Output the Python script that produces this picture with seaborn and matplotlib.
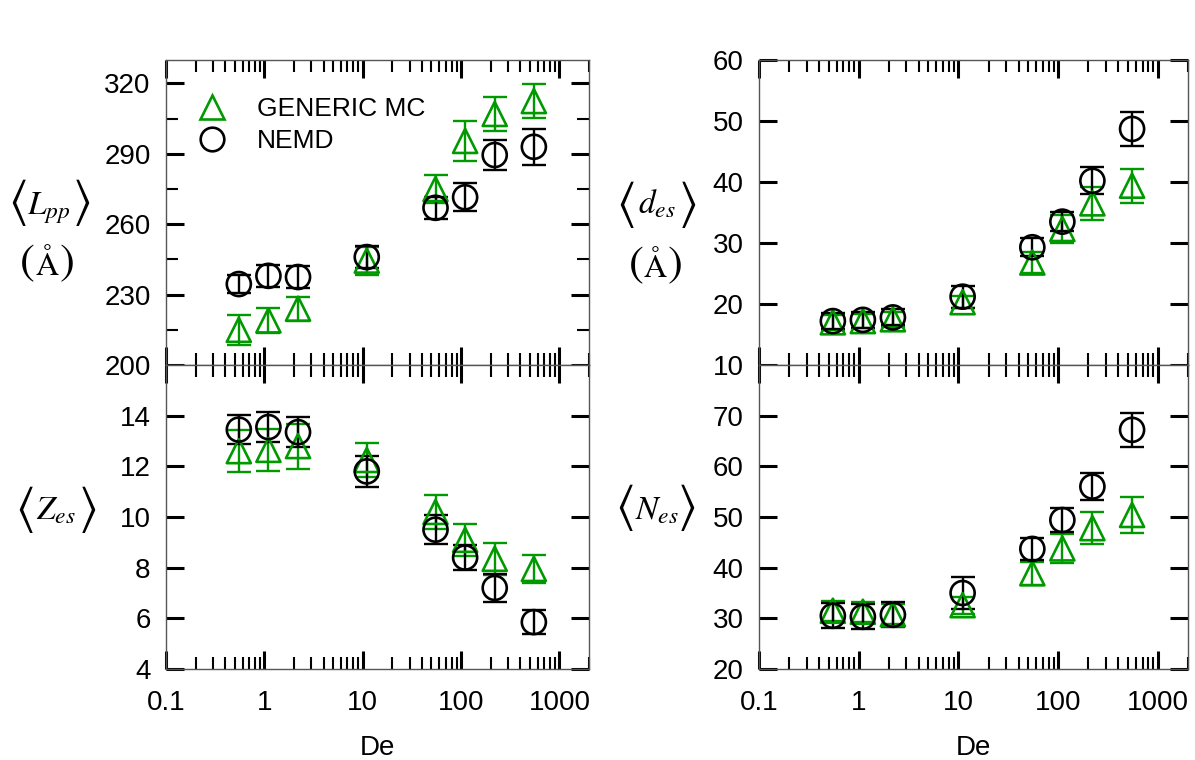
import pandas as pd
import seaborn as sns
import matplotlib.pyplot as plt
from matplotlib.lines import Line2D
from matplotlib.collections import PathCollection
from matplotlib.ticker import FixedLocator, LogLocator, AutoMinorLocator, NullFormatter

# Deborah numbers of the simulations
de = [0.55, 1.1, 2.2, 11, 55, 110, 220, 550]

# <L_pp> (A)
lpp_mc = [215, 219, 224, 244.5, 275, 295.5, 307, 312.5]
lpp_mc_err = [6.4, 5.4, 5.1, 6.0, 6.0, 8.5, 7.3, 7.3]
lpp_md = [234.5, 238, 237.5, 246, 267, 271.5, 289.5, 293]
lpp_md_err = [3.8, 4.6, 4.6, 4.6, 4.8, 6.0, 6.2, 7.7]

# <d_es> (A)
des_mc = [17.0, 17.2, 17.5, 20.3, 26.8, 32.3, 36.5, 39.4]
des_mc_err = [1.2, 1.2, 1.2, 1.0, 1.7, 2.3, 2.7, 2.8]
des_md = [17.2, 17.4, 17.8, 21.2, 29.3, 33.5, 40.2, 48.7]
des_md_err = [1.3, 1.3, 1.3, 1.8, 1.5, 1.5, 2.2, 2.8]

# <Z_es>
zes_mc = [12.6, 12.65, 12.8, 12.25, 10.2, 9.1, 8.35, 7.95]
zes_mc_err = [0.84, 0.84, 0.89, 0.69, 0.67, 0.64, 0.62, 0.56]
zes_md = [13.45, 13.55, 13.35, 11.8, 9.5, 8.4, 7.2, 5.85]
zes_md_err = [0.58, 0.6, 0.6, 0.6, 0.58, 0.51, 0.55, 0.46]

# <N_es>
nes_mc = [31.5, 31.3, 30.8, 32.6, 38.9, 43.8, 47.8, 50.4]
nes_mc_err = [2.0, 2.0, 2.0, 1.7, 2.3, 2.8, 3.2, 3.6]
nes_md = [30.5, 30.3, 30.7, 35.0, 43.7, 49.4, 56.0, 67.2]
nes_md_err = [2.5, 2.5, 2.5, 3.1, 2.2, 2.3, 2.7, 3.3]

x_ticks = [0.1, 1, 10, 100, 1000]
x_ticklabels = ['0.1', '1', '10', '100', '1000']

methods = ['GENERIC MC', 'NEMD']
green = '#009a00'
colors = {'GENERIC MC': green, 'NEMD': 'black'}
markers = {'GENERIC MC': '^', 'NEMD': 'o'}

sns.set_theme(style='ticks')
plt.rcParams['font.family'] = ['Liberation Sans', 'DejaVu Sans']
plt.rcParams['mathtext.fontset'] = 'stix'
plt.rcParams['text.color'] = 'black'
plt.rcParams['axes.labelcolor'] = 'black'


def make_df(mc, mc_err, md, md_err):
    parts = []
    for name, v, e in [('GENERIC MC', mc, mc_err), ('NEMD', md, md_err)]:
        parts.append(pd.DataFrame({'De': de, 'value': v, 'err': e, 'method': name}))
    return pd.concat(parts, ignore_index=True)


fig = plt.figure(figsize=(11.95, 7.6), dpi=100)
W, H = 1195, 760


def px_axes(x0, x1, y0, y1):
    return fig.add_axes([x0 / W, 1 - y1 / H, (x1 - x0) / W, (y1 - y0) / H])


ax_lpp = px_axes(166, 589, 60, 365)
ax_des = px_axes(759, 1188, 60, 365)
ax_zes = px_axes(166, 589, 365, 669)
ax_nes = px_axes(759, 1188, 365, 669)

panels = [
    (ax_lpp, make_df(lpp_mc, lpp_mc_err, lpp_md, lpp_md_err), (200, 330), [200, 230, 260, 290, 320], True, False),
    (ax_des, make_df(des_mc, des_mc_err, des_md, des_md_err), (10, 60), [10, 20, 30, 40, 50, 60], False, False),
    (ax_zes, make_df(zes_mc, zes_mc_err, zes_md, zes_md_err), (4, 16), [4, 6, 8, 10, 12, 14], False, True),
    (ax_nes, make_df(nes_mc, nes_mc_err, nes_md, nes_md_err), (20, 80), [20, 30, 40, 50, 60, 70], False, True),
]

for ax, df, ylim, yticks, minor_y, show_x in panels:
    for name in methods:
        sub = df[df['method'] == name]
        ax.errorbar(sub['De'], sub['value'], yerr=sub['err'], fmt='none',
                    ecolor=colors[name], elinewidth=1.7, capsize=8.5, capthick=1.7, zorder=2)
    sns.scatterplot(data=df, x='De', y='value', hue='method', style='method',
                    palette=colors, markers=markers, s=300, legend=False, ax=ax, zorder=3)
    pts = [c for c in ax.collections if isinstance(c, PathCollection)][-1]
    fc = pts.get_facecolors()
    pts.set_edgecolors(fc)
    pts.set_facecolors('none')
    pts.set_linewidths(1.9)

    ax.set_xscale('log')
    ax.set_xlim(0.1, 2000)
    ax.set_ylim(*ylim)
    ax.xaxis.set_major_locator(FixedLocator(x_ticks))
    ax.xaxis.set_minor_locator(LogLocator(base=10, subs=range(2, 10), numticks=20))
    ax.xaxis.set_minor_formatter(NullFormatter())
    ax.yaxis.set_major_locator(FixedLocator(yticks))
    if minor_y:
        ax.yaxis.set_minor_locator(AutoMinorLocator(2))
    ax.set_yticklabels([str(t) for t in yticks])
    if show_x:
        ax.set_xticklabels(x_ticklabels)
        ax.set_xlabel('De', fontsize=20, labelpad=14)
    else:
        ax.set_xticklabels([])
        ax.set_xlabel('')
    ax.set_ylabel('')
    ax.tick_params(which='both', direction='in', top=True, right=True, bottom=True, left=True,
                   colors='black', labelsize=20)
    ax.tick_params(which='major', length=13, width=2.2)
    ax.tick_params(which='minor', length=8.5, width=1.5)
    ax.tick_params(axis='x', which='major', pad=15)
    ax.tick_params(axis='y', which='major', pad=11)
    for s in ax.spines.values():
        s.set_visible(True)
        s.set_color('#555555')
        s.set_linewidth(1.0)
    ax.set_facecolor('white')


# y labels: big angle brackets / parentheses around the smaller symbol
def px_text(x, y, s, **kw):
    fig.text(x / W, 1 - y / H, s, **kw)


def bracket_label(xl, xc, xr, yc, ybase, core):
    px_text(xl, yc, '\u27e8', family='STIXGeneral', fontsize=36, ha='center', va='center')
    px_text(xr, yc, '\u27e9', family='STIXGeneral', fontsize=36, ha='center', va='center')
    px_text(xc, ybase, core, fontsize=24, ha='center', va='baseline')


def unit_label(xl, xc, xr, yc, ybase):
    px_text(xl, yc, '(', family='STIXGeneral', fontsize=32, ha='center', va='center')
    px_text(xr, yc, ')', family='STIXGeneral', fontsize=32, ha='center', va='center')
    px_text(xc, ybase, '\u00c5', family='STIXGeneral', fontsize=23, ha='center', va='baseline')


bracket_label(18, 49, 83, 203, 215, r'$L_{pp}$')
unit_label(27, 47, 67, 264, 275)
bracket_label(25, 56, 89, 510, 520, r'$Z_{es}$')
bracket_label(626, 657, 689, 205, 213, r'$d_{es}$')
unit_label(636, 655, 675, 266, 277)
bracket_label(625, 657, 688, 508, 519, r'$N_{es}$')

handles = [Line2D([], [], ls='none', marker=markers[m], ms=17, mfc='none',
                  mec=colors[m], mew=1.9) for m in methods]
ax_lpp.legend(handles, methods, loc='upper left', bbox_to_anchor=(0.077, 0.878),
              frameon=False, fontsize=19, handlelength=1.0, handletextpad=1.2,
              borderpad=0, borderaxespad=0, labelspacing=0.3)

fig.savefig('out.png', dpi=100)
